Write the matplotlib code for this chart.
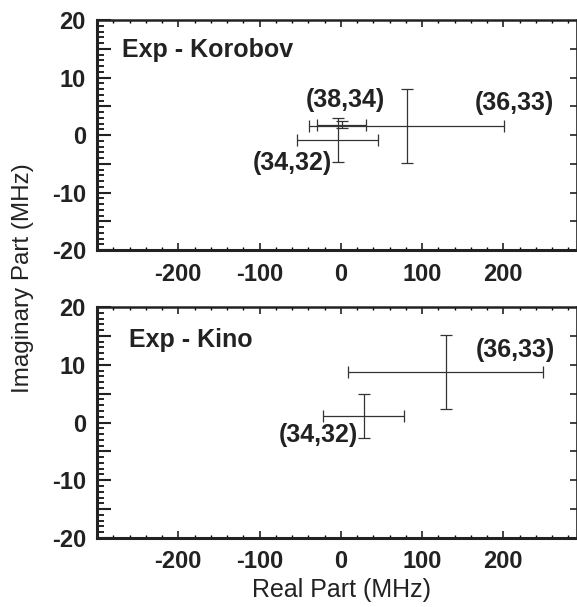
import matplotlib
matplotlib.use("Agg")
import matplotlib.pyplot as plt
from matplotlib.ticker import MultipleLocator, FuncFormatter, FixedLocator

# ---- data ----
kor_labels = ["(34,32)", "(38,34)", "(36,33)"]
kor_re = [-4, 1, 81]
kor_re_err = [50, 30, 120]
kor_im = [-0.9, 1.8, 1.6]
kor_im_err = [3.8, 0.6, 6.4]

kino_labels = ["(34,32)", "(36,33)"]
kino_re = [28, 129]
kino_re_err = [50, 120]
kino_im = [1.1, 8.8]
kino_im_err = [3.8, 6.4]

panel_titles = ["Exp - Korobov", "Exp - Kino"]
x_ticks = [-200, -100, 0, 100, 200]
y_ticks = [-20, -10, 0, 10, 20]

plt.rcParams['font.family'] = ['Liberation Sans', 'DejaVu Sans']
TXT = '#222222'
BAR = '#333333'

fig = plt.figure(figsize=(5.77, 6.07), dpi=100)
W, H = 577.0, 607.0
left = 97 / W
width = 479.5 / W
ax1 = fig.add_axes([left, 1 - 250 / H, width, 230 / H])
ax2 = fig.add_axes([left, 1 - 538 / H, width, 231 / H])

TICKFS = 17


def style(ax):
    ax.set_xlim(-300, 290)
    ax.set_ylim(-20, 20)
    ax.xaxis.set_major_locator(FixedLocator(x_ticks))
    ax.xaxis.set_minor_locator(MultipleLocator(20))
    ax.yaxis.set_major_locator(MultipleLocator(5))
    ax.yaxis.set_minor_locator(MultipleLocator(1))
    ax.yaxis.set_major_formatter(FuncFormatter(lambda v, p: f"{int(round(v))}" if round(v) % 10 == 0 else ""))
    ax.xaxis.set_major_formatter(FuncFormatter(lambda v, p: f"{int(round(v))}"))
    ax.tick_params(axis='x', which='major', direction='in', length=5, width=1.2,
                   top=True, bottom=True, labelsize=TICKFS, pad=9, colors=TXT)
    ax.tick_params(axis='x', which='minor', direction='in', length=2.5, width=1.0,
                   top=True, bottom=True)
    ax.tick_params(axis='y', which='major', direction='in', length=10, width=1.5,
                   left=True, right=False, labelsize=TICKFS, pad=8, colors=TXT)
    ax.tick_params(axis='y', which='minor', direction='in', length=5, width=1.2,
                   left=True, right=False)
    for lab in ax.get_xticklabels() + ax.get_yticklabels():
        lab.set_fontweight('bold')
    ax.spines['left'].set_linewidth(2.2)
    ax.spines['bottom'].set_linewidth(2.2)
    ax.spines['top'].set_linewidth(1.8)
    ax.spines['right'].set_linewidth(1.2)
    for s in ax.spines.values():
        s.set_color(TXT)
    sec = ax.secondary_yaxis('right')
    sec.set_yticks([-15, -10, -5, 0, 5, 10, 15])
    sec.tick_params(direction='in', length=5, width=1.2, labelright=False, colors=TXT)
    sec.spines['right'].set_visible(False)


for ax in (ax1, ax2):
    style(ax)

ax1.errorbar(kor_re, kor_im, xerr=kor_re_err, yerr=kor_im_err, fmt='none',
             ecolor=BAR, elinewidth=0.9, capsize=4.5, capthick=0.9)
ax2.errorbar(kino_re, kino_im, xerr=kino_re_err, yerr=kino_im_err, fmt='none',
             ecolor=BAR, elinewidth=0.9, capsize=4.5, capthick=0.9)

fs = 18
ax1.text(-269.5, 14.8, panel_titles[0], ha='left', va='center', fontsize=fs, fontweight='bold', color=TXT)
ax2.text(-261, 14.3, panel_titles[1], ha='left', va='center', fontsize=fs, fontweight='bold', color=TXT)

ax1.text(6, 6.1, kor_labels[1], ha='center', va='center', fontsize=fs, fontweight='bold', color=TXT)
ax1.text(213, 5.6, kor_labels[2], ha='center', va='center', fontsize=fs, fontweight='bold', color=TXT)
ax1.text(-60, -4.9, kor_labels[0], ha='center', va='center', fontsize=fs, fontweight='bold', color=TXT)

ax2.text(215, 12.6, kino_labels[1], ha='center', va='center', fontsize=fs, fontweight='bold', color=TXT)
ax2.text(-28, -2.2, kino_labels[0], ha='center', va='center', fontsize=fs, fontweight='bold', color=TXT)

fig.text(341 / W, 1 - 590 / H, "Real Part (MHz)", ha='center', va='center', fontsize=18, color=TXT)
fig.text(23 / W, 1 - 278 / H, "Imaginary Part (MHz)", ha='center', va='center',
         rotation=90, fontsize=17.5, color=TXT)

fig.savefig("out.png", dpi=100)
